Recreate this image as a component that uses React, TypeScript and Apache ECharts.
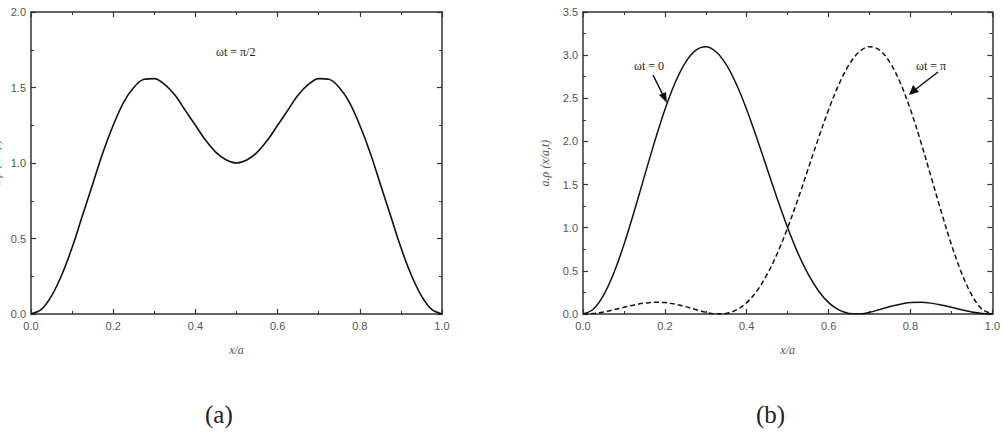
import React, { useEffect, useRef } from "react";
import * as echarts from "echarts";

// x/a positions
const X_POS = [
  0, 0.025, 0.05, 0.075, 0.1, 0.125, 0.15, 0.175, 0.2, 0.225, 0.25, 0.275, 0.3, 0.325, 0.35, 0.375, 0.4,
  0.425, 0.45, 0.475, 0.5, 0.525, 0.55, 0.575, 0.6, 0.625, 0.65, 0.675, 0.7, 0.725, 0.75, 0.775, 0.8,
  0.825, 0.85, 0.875, 0.9, 0.925, 0.95, 0.975, 1,
];

// (a) ωt = π/2
const RHO_HALF_PI = [
  0, 0.03, 0.12, 0.26, 0.44, 0.65, 0.86, 1.07, 1.25, 1.4, 1.5, 1.554, 1.559, 1.52, 1.45, 1.35, 1.25,
  1.15, 1.07, 1.02, 1.0, 1.02, 1.07, 1.15, 1.25, 1.35, 1.45, 1.52, 1.559, 1.554, 1.5, 1.4, 1.25,
  1.07, 0.86, 0.65, 0.44, 0.26, 0.12, 0.03, 0,
];

// (b) ωt = 0 (solid)
const RHO_ZERO = [
  0, 0.055, 0.217, 0.473, 0.804, 1.188, 1.595, 1.998, 2.368, 2.68, 2.914, 3.056, 3.098, 3.04, 2.89,
  2.66, 2.368, 2.035, 1.681, 1.33, 1.0, 0.706, 0.461, 0.269, 0.132, 0.047, 0.007, 0.0015, 0.02, 0.052,
  0.086, 0.114, 0.132, 0.136, 0.126, 0.105, 0.078, 0.049, 0.023, 0.006, 0,
];

// (b) ωt = π (dashed)
const RHO_PI = [
  0, 0.006, 0.023, 0.049, 0.078, 0.105, 0.126, 0.136, 0.132, 0.114, 0.086, 0.052, 0.02, 0.0015, 0.007,
  0.047, 0.132, 0.269, 0.461, 0.706, 1.0, 1.33, 1.681, 2.035, 2.368, 2.66, 2.89, 3.04, 3.098, 3.056,
  2.914, 2.68, 2.368, 1.998, 1.595, 1.188, 0.804, 0.473, 0.217, 0.055, 0,
];

const X_TICKS = { min: 0, max: 1, interval: 0.2 };
const Y_TICKS_A = { min: 0, max: 2, interval: 0.5 };
const Y_TICKS_B = { min: 0, max: 3.5, interval: 0.5 };

const AXIS_COLOR = "#333";
const LABEL_COLOR = "#555";
const SANS = "Arial, 'Liberation Sans', sans-serif";
const SERIF = "'Times New Roman', 'Liberation Serif', serif";
const Y_NAME = "a.ρ (x/a,t)";

function pairs(ys: number[]) {
  return X_POS.map((x, i) => [x, ys[i]]);
}

function xAxis(grid: number, pos: "bottom" | "top") {
  const bottom = pos === "bottom";
  return {
    type: "value",
    gridIndex: grid,
    position: pos,
    min: X_TICKS.min,
    max: X_TICKS.max,
    interval: X_TICKS.interval,
    name: bottom ? "x/a" : "",
    nameLocation: "middle",
    nameGap: 30,
    nameTextStyle: { fontFamily: SERIF, fontStyle: "italic", fontSize: 12, color: LABEL_COLOR },
    axisLine: { show: true, onZero: false, lineStyle: { color: AXIS_COLOR, width: 1.5 } },
    axisTick: { show: true, inside: true, length: 5, lineStyle: { color: AXIS_COLOR, width: 1.2 } },
    minorTick: { show: true, splitNumber: 2, length: 3, lineStyle: { color: AXIS_COLOR, width: 1 } },
    axisLabel: {
      show: bottom,
      margin: 6,
      fontFamily: SANS,
      fontSize: 11,
      color: LABEL_COLOR,
      formatter: (v: number) => v.toFixed(1),
    },
    splitLine: { show: false },
  };
}

function yAxis(grid: number, pos: "left" | "right", t: { min: number; max: number; interval: number }) {
  const left = pos === "left";
  return {
    type: "value",
    gridIndex: grid,
    position: pos,
    min: t.min,
    max: t.max,
    interval: t.interval,
    axisLine: { show: true, onZero: false, lineStyle: { color: AXIS_COLOR, width: 1.5 } },
    axisTick: { show: true, inside: true, length: 5, lineStyle: { color: AXIS_COLOR, width: 1.2 } },
    minorTick: { show: true, splitNumber: 2, length: 3, lineStyle: { color: AXIS_COLOR, width: 1 } },
    axisLabel: {
      show: left,
      margin: 5,
      fontFamily: SANS,
      fontSize: 11,
      color: LABEL_COLOR,
      formatter: (v: number) => v.toFixed(1),
    },
    splitLine: { show: false },
  };
}

export default function App() {
  const ref = useRef<HTMLDivElement>(null);

  useEffect(() => {
    if (!ref.current) return;
    const chart = echarts.init(ref.current, undefined, { renderer: "svg" });
    const lineBase = {
      type: "line",
      showSymbol: false,
      symbol: "none",
      smooth: 0.35,
      silent: true,
    };
    const annFont = { fontFamily: SERIF, fontSize: 12, fill: "#222" };
    const yName = (x: number) => ({
      type: "text",
      x,
      y: 163,
      rotation: Math.PI / 2,
      style: {
        text: Y_NAME,
        fontFamily: SERIF,
        fontStyle: "italic",
        fontSize: 12,
        fill: LABEL_COLOR,
        align: "center",
        verticalAlign: "middle",
      },
    });
    chart.setOption({
      animation: false,
      backgroundColor: "#fff",
      grid: [
        { left: 31, top: 12, width: 411, height: 302 },
        { left: 583, top: 12, width: 412, height: 302 },
      ],
      xAxis: [xAxis(0, "bottom"), xAxis(0, "top"), xAxis(1, "bottom"), xAxis(1, "top")],
      yAxis: [
        yAxis(0, "left", Y_TICKS_A),
        yAxis(0, "right", Y_TICKS_A),
        yAxis(1, "left", Y_TICKS_B),
        yAxis(1, "right", Y_TICKS_B),
      ],
      series: [
        {
          ...lineBase,
          name: "ωt = π/2",
          xAxisIndex: 0,
          yAxisIndex: 0,
          data: pairs(RHO_HALF_PI),
          lineStyle: { color: "#111", width: 1.6 },
        },
        {
          ...lineBase,
          name: "ωt = 0",
          xAxisIndex: 2,
          yAxisIndex: 2,
          data: pairs(RHO_ZERO),
          lineStyle: { color: "#111", width: 1.5 },
        },
        {
          ...lineBase,
          name: "ωt = π",
          xAxisIndex: 2,
          yAxisIndex: 2,
          data: pairs(RHO_PI),
          lineStyle: { color: "#111", width: 1.5, type: [5, 3] },
        },
      ],
      graphic: [
        yName(-4),
        yName(545),
        { type: "text", left: 216, top: 46, style: { ...annFont, text: "ωt = π/2" } },
        { type: "text", left: 634, top: 60, style: { ...annFont, text: "ωt = 0" } },
        { type: "line", shape: { x1: 653, y1: 75, x2: 664, y2: 97 }, style: { stroke: "#111", lineWidth: 1.5 } },
        { type: "polygon", shape: { points: [[667, 103], [659, 95], [666, 92]] }, style: { fill: "#111" } },
        { type: "text", left: 916, top: 60, style: { ...annFont, text: "ωt = π" } },
        { type: "line", shape: { x1: 938, y1: 72, x2: 916, y2: 89 }, style: { stroke: "#111", lineWidth: 1.5 } },
        { type: "polygon", shape: { points: [[909, 95], [913, 85], [919, 92]] }, style: { fill: "#111" } },
        {
          type: "text",
          left: 205,
          top: 402,
          style: { fontFamily: SERIF, fontSize: 25, fill: "#222", text: "(a)" },
        },
        {
          type: "text",
          left: 756,
          top: 402,
          style: { fontFamily: SERIF, fontSize: 25, fill: "#222", text: "(b)" },
        },
      ],
    });
    return () => chart.dispose();
  }, []);

  return (
    <div
      ref={ref}
      style={{ position: "fixed", left: 0, top: 0, width: 1003, height: 441, background: "#fff" }}
    />
  );
}
